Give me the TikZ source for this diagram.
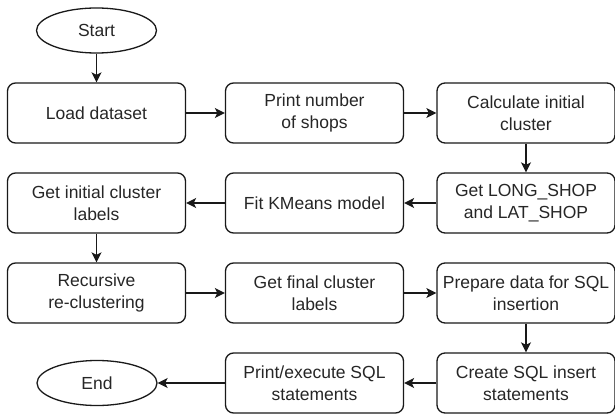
\documentclass[tikz,border=0pt]{standalone}
\usepackage{fontspec}
\setmainfont{Liberation Sans}
\usetikzlibrary{shapes.geometric,arrows.meta}
\begin{document}
\begin{tikzpicture}[x=1pt,y=-1pt,
  box/.style={draw=black!90,line width=1.3pt,rounded corners=8pt,minimum width=178pt,minimum height=60pt,
    align=center,font=\fontsize{17.5}{22.5}\selectfont,text=black!85,inner sep=0pt},
  term/.style={draw=black!90,line width=1.3pt,ellipse,minimum width=120pt,minimum height=45pt,inner sep=0pt,
    font=\fontsize{17.5}{22.5}\selectfont,text=black!85},
  conn/.style={draw=black!90,line width=1.3pt,-{Stealth[length=10pt,width=10pt,inset=2.5pt]}}]
\useasboundingbox (0,0) rectangle (615,414);
\node[term] (start) at (96.5,30.5) {Start};
\node[box] (load) at (96.5,113) {Load dataset};
\node[box] (print) at (314.5,113) {Print number\\of shops};
\node[box] (calc) at (526,113) {Calculate initial\\cluster};
\node[box] (long) at (526,203) {Get LONG\_SHOP\\and LAT\_SHOP};
\node[box] (fit) at (314.5,203) {Fit KMeans model};
\node[box] (init) at (96.5,203) {Get initial cluster\\labels};
\node[box] (rec) at (96.5,293) {Recursive\\re-clustering};
\node[box] (final) at (314.5,293) {Get final cluster\\labels};
\node[box] (prep) at (526,293) {Prepare data for SQL\\insertion};
\node[box] (create) at (526,383) {Create SQL insert\\statements};
\node[box] (exec) at (314.5,383) {Print/execute SQL\\statements};
\node[term] (end) at (97,383) {End};
\draw[conn] (start) -- (load);
\draw[conn] (load) -- (print);
\draw[conn] (print) -- (calc);
\draw[conn] (calc) -- (long);
\draw[conn] (long) -- (fit);
\draw[conn] (fit) -- (init);
\draw[conn] (init) -- (rec);
\draw[conn] (rec) -- (final);
\draw[conn] (final) -- (prep);
\draw[conn] (prep) -- (create);
\draw[conn] (create) -- (exec);
\draw[conn] (exec) -- (end);
\end{tikzpicture}
\end{document}
